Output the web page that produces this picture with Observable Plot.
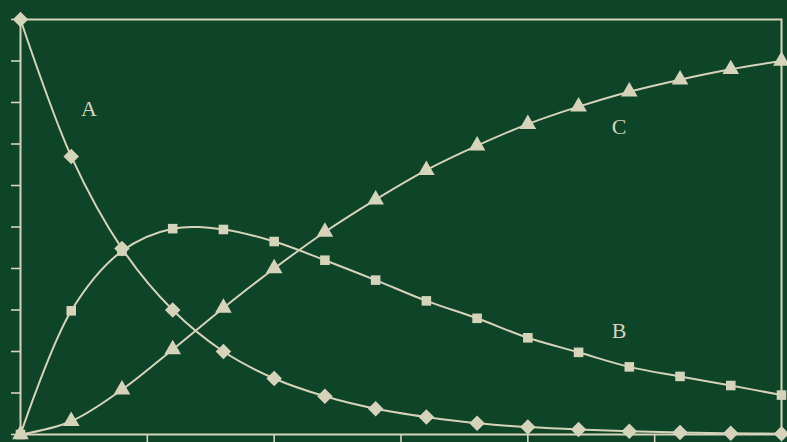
<!DOCTYPE html>
<html>
<head>
<meta charset="utf-8">
<script src="https://cdn.jsdelivr.net/npm/d3@7"></script>
<script src="https://cdn.jsdelivr.net/npm/@observablehq/plot@0.6"></script>
<style>
  html, body { margin: 0; padding: 0; background: #0e4427; overflow: hidden; }
  #chart svg { display: block; }
</style>
</head>
<body>
<div id="chart"></div>
<script>
// time steps
const time = [0, 1, 2, 3, 4, 5, 6, 7, 8, 9, 10, 11, 12, 13, 14, 15];
// series values (fraction 0..1)
const seriesA = [1.0, 0.67, 0.448, 0.30, 0.20, 0.135, 0.092, 0.062, 0.042, 0.027, 0.018, 0.012, 0.008, 0.005, 0.003, 0.002];
const seriesB = [0.0, 0.298, 0.442, 0.496, 0.494, 0.465, 0.42, 0.372, 0.322, 0.28, 0.233, 0.198, 0.163, 0.14, 0.118, 0.095];
const seriesC = [0.0, 0.032, 0.108, 0.205, 0.305, 0.40, 0.488, 0.566, 0.637, 0.696, 0.748, 0.79, 0.826, 0.855, 0.88, 0.90];
// axis ticks (no labels shown)
const xTicks = [2.5, 5, 7.5, 10, 12.5];
const yTicks = [0, 0.1, 0.2, 0.3, 0.4, 0.5, 0.6, 0.7, 0.8, 0.9, 1.0];
// series labels and where they sit (data units)
const labelNames = ["A", "B", "C"];
const labelT = [1.35, 11.8, 11.8];
const labelV = [0.785, 0.25, 0.74];

const ink = "#d6d3bb";
const series = [seriesA, seriesB, seriesC];
const rows = [];
series.forEach((vals, si) => {
  vals.forEach((v, i) => rows.push({t: time[i], v, s: labelNames[si]}));
});
const labels = labelNames.map((n, i) => ({n, t: labelT[i], v: labelV[i]}));

const chart = Plot.plot({
  width: 787,
  height: 442,
  marginLeft: 20,
  marginTop: 19,
  marginRight: 6,
  marginBottom: 8,
  style: {background: "#0e4427", overflow: "visible"},
  x: {domain: [0, 15], label: null},
  y: {domain: [0, 1], label: null},
  marks: [
    Plot.axisY({ticks: yTicks, tickSize: 9, tickFormat: () => "", label: null, stroke: ink, strokeWidth: 1.6, strokeOpacity: 1}),
    Plot.axisX({ticks: xTicks, tickSize: 8, tickFormat: () => "", label: null, stroke: ink, strokeWidth: 1.6, strokeOpacity: 1}),
    Plot.frame({stroke: ink, strokeWidth: 2}),
    Plot.line(rows, {x: "t", y: "v", z: "s", stroke: ink, strokeWidth: 2, curve: "catmull-rom"}),
    Plot.dot(rows.filter(d => d.s === "A"), {x: "t", y: "v", symbol: "diamond2", r: 7, fill: ink, stroke: "none"}),
    Plot.dot(rows.filter(d => d.s === "B"), {x: "t", y: "v", symbol: "square", r: 5.4, fill: ink, stroke: "none"}),
    Plot.dot(rows.filter(d => d.s === "C"), {x: "t", y: "v", symbol: "triangle", r: 6.2, fill: ink, stroke: "none"}),
    Plot.text(labels, {x: "t", y: "v", text: "n", fill: ink, fontSize: 22, fontFamily: "Liberation Serif, DejaVu Serif, serif"})
  ]
});
document.getElementById("chart").append(chart);
</script>
</body>
</html>
